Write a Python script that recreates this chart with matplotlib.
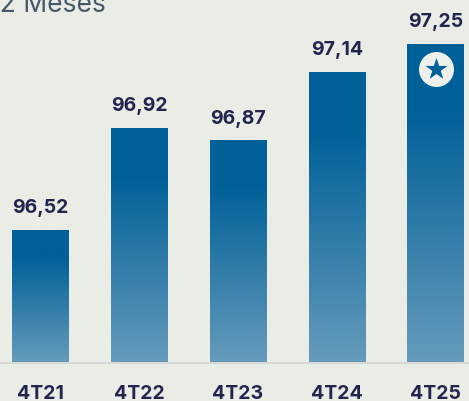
import numpy as np
import matplotlib
matplotlib.use('Agg')
import matplotlib.pyplot as plt

plt.rcParams['font.family'] = ['Inter', 'DejaVu Sans']

periodos = ['4T21', '4T22', '4T23', '4T24', '4T25']
valores = [96.52, 96.92, 96.87, 97.14, 97.25]
rotulos = ['96,52', '96,92', '96,87', '97,14', '97,25']

fundo = '#EAEDE6'
texto = '#22264F'

fig = plt.figure(figsize=(4.69, 4.01), dpi=100, facecolor=fundo)
ax = fig.add_axes([0, 0, 1, 1], facecolor=fundo)

# eixo de valores: 96,52 -> y=230, 97,25 -> y=44 em pixels
base = 362
escala = (230 - 44) / (97.25 - 96.52)
def y_px(v):
    return 230 - (v - 96.52) * escala

# gradiente vertical das barras
cor_topo = np.array([0, 96, 152]) / 255
cor_base = np.array([101, 155, 187]) / 255

centros = [40.5, 139.5, 238, 337, 435.5]
larg = 57
for c, v, r, p in zip(centros, valores, rotulos, periodos):
    topo = y_px(v)
    n = 200
    t = np.clip((np.linspace(0, 1, n) - 0.2) / 0.8, 0, 1).reshape(-1, 1)
    img = (cor_topo * (1 - t) + cor_base * t).reshape(n, 1, 3)
    ax.imshow(img, extent=[c - larg / 2, c + larg / 2, base, topo], aspect='auto', zorder=2)
    ax.text(c, topo - 17, r, ha='center', va='baseline', fontsize=14, fontweight='bold', color=texto)
    ax.text(c, 399, p, ha='center', va='baseline', fontsize=14, fontweight='bold', color=texto)

ax.set_xlim(0, 469)
ax.set_ylim(401, 0)
ax.axis('off')

ax.plot([0, 469], [363, 363], color='#D8D9D7', lw=1.4, zorder=1)
ax.text(-11, 12, '12 Meses', ha='left', va='baseline', fontsize=19, color='#46596A')

# selo com estrela na ultima barra
ax.scatter([435.7], [69], s=635, color='#EEF0EB', linewidths=0, zorder=3)
ax.scatter([435.7], [69], s=280, marker='*', color='#00609A', linewidths=0, zorder=4)

fig.savefig('out.png', dpi=100, facecolor=fundo)
